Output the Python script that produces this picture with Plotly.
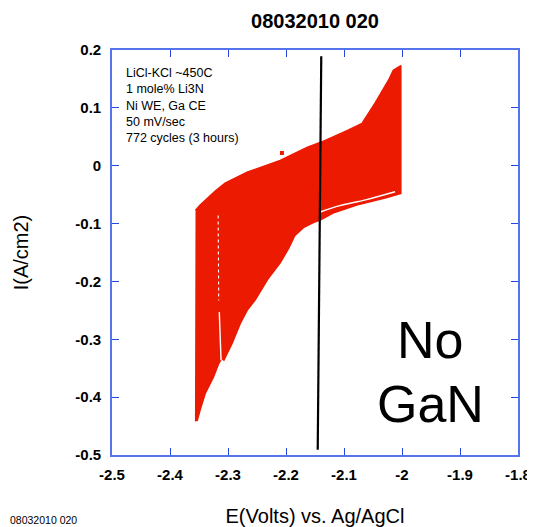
import plotly.graph_objects as go

# ---- data ----
title_text = "08032010 020"
x_title = "E(Volts) vs. Ag/AgCl"
y_title = "I(A/cm2)"

x_tickvals = [-2.5, -2.4, -2.3, -2.2, -2.1, -2.0, -1.9, -1.8]
x_ticktext = ["-2.5", "-2.4", "-2.3", "-2.2", "-2.1", "-2", "-1.9", "-1.8"]
y_tickvals = [0.2, 0.1, 0.0, -0.1, -0.2, -0.3, -0.4, -0.5]
y_ticktext = ["0.2", "0.1", "0", "-0.1", "-0.2", "-0.3", "-0.4", "-0.5"]

# envelope of the 772 overlaid CV cycles (outer boundary)
env_E = [-2.356, -2.348, -2.322, -2.305, -2.267, -2.210, -2.163, -2.141, -2.094,
         -2.069, -2.046, -2.022, -2.015, -2.002, -2.002, -2.026, -2.078, -2.119,
         -2.141, -2.152, -2.170, -2.185, -2.195, -2.210, -2.230, -2.253, -2.267, -2.279,
         -2.293, -2.307, -2.311, -2.316, -2.325, -2.339, -2.348, -2.353, -2.357]
env_I = [-0.077, -0.068, -0.044, -0.030, -0.011, 0.009, 0.032, 0.040, 0.061,
         0.073, 0.109, 0.150, 0.165, 0.173, -0.048, -0.055, -0.068, -0.082,
         -0.094, -0.098, -0.107, -0.121, -0.142, -0.168, -0.194, -0.232, -0.250, -0.273,
         -0.307, -0.336, -0.333, -0.342, -0.365, -0.393, -0.422, -0.440, -0.441]

# white gaps between groups of cycles
gap1_E = [-2.141, -2.107, -2.063, -2.012]
gap1_I = [-0.080, -0.069, -0.059, -0.045]
gap2_E = [-2.315, -2.312]
gap2_I = [-0.253, -0.336]
gap3_E = [-2.317, -2.316]
gap3_I = [-0.086, -0.233]

stray_E = [-2.207]
stray_I = [0.022]

# vertical reference line
ref_E = [-2.1453, -2.1392]
ref_I = [-0.491, 0.189]

info_lines = ["LiCl-KCl ~450C", "1 mole% Li3N", "Ni WE, Ga CE", "50 mV/sec",
              "772 cycles (3 hours)"]

RED = "#ec1a00"
AXIS_BLUE = "#5573ea"
TICK_BLUE = "#2448e0"
FONT = "Liberation Sans, Arial, Helvetica, sans-serif"

# the page body adds an 8px offset; figure is sized so the plot lands where the reference has it
OFF = 8
W, H = 535 - OFF, 527 - OFF
L, R, T, B = 111.5 - OFF, 17, 49.5 - OFF, 72
PW = W - L - R
PH = H - T - B


def px(p):
    return (p - OFF - L) / PW


def py(p):
    return 1 - (p - OFF - T) / PH


fig = go.Figure()
fig.add_trace(go.Scatter(x=env_E, y=env_I, mode="lines", fill="toself",
                         fillcolor=RED, line=dict(color=RED, width=1.5),
                         hoverinfo="skip", showlegend=False))
fig.add_trace(go.Scatter(x=gap1_E, y=gap1_I, mode="lines",
                         line=dict(color="white", width=1.4, shape="spline"),
                         showlegend=False, hoverinfo="skip"))
fig.add_trace(go.Scatter(x=gap2_E, y=gap2_I, mode="lines",
                         line=dict(color="white", width=1.4),
                         showlegend=False, hoverinfo="skip"))
fig.add_trace(go.Scatter(x=gap3_E, y=gap3_I, mode="lines",
                         line=dict(color="white", width=1.1, dash="dot"),
                         showlegend=False, hoverinfo="skip"))
fig.add_trace(go.Scatter(x=stray_E, y=stray_I, mode="markers",
                         marker=dict(color=RED, size=4, symbol="square"),
                         showlegend=False, hoverinfo="skip"))
fig.add_trace(go.Scatter(x=ref_E, y=ref_I, mode="lines",
                         line=dict(color="black", width=2.2),
                         showlegend=False, hoverinfo="skip"))

axis_common = dict(showgrid=False, zeroline=False, showline=True, linecolor=AXIS_BLUE,
                   linewidth=1.6, mirror="allticks", ticks="inside", ticklen=7,
                   tickcolor=TICK_BLUE, tickwidth=1.3, automargin=False,
                   tickfont=dict(family=FONT, size=15, color="black", weight="bold"))

fig.update_layout(
    width=W, height=H,
    margin=dict(l=L, r=R, t=T, b=B),
    plot_bgcolor="white", paper_bgcolor="white",
    font=dict(family=FONT, color="black"),
    title=dict(text="<b>" + title_text + "</b>", x=0.5, xref="paper",
               y=1 - (20.5 - OFF) / H, yref="container", yanchor="middle", xanchor="center",
               font=dict(family=FONT, size=20, color="black")),
    xaxis=dict(range=[-2.5, -1.8], tickvals=x_tickvals, ticktext=x_ticktext,
               ticklabelstandoff=5,
               title=dict(text=x_title, font=dict(family=FONT, size=20), standoff=30),
               **axis_common),
    yaxis=dict(range=[-0.5, 0.2], tickvals=y_tickvals, ticktext=y_ticktext,
               ticklabelstandoff=6,
               title=dict(text=y_title, font=dict(family=FONT, size=20), standoff=41),
               **axis_common),
    showlegend=False,
)

fig.add_annotation(text="<br>".join(info_lines), xref="paper", yref="paper",
                   x=px(124), y=py(105.5), xanchor="left",
                   yanchor="middle", align="left", showarrow=False,
                   font=dict(family=FONT, size=12.5, color="black"))
fig.add_annotation(text="No", xref="paper", yref="paper", x=px(430),
                   y=py(340), xanchor="center", yanchor="middle",
                   showarrow=False, font=dict(family=FONT, size=52, color="black"))
fig.add_annotation(text="GaN", xref="paper", yref="paper", x=px(430),
                   y=py(404), xanchor="center", yanchor="middle",
                   showarrow=False, font=dict(family=FONT, size=52, color="black"))
fig.add_annotation(text=title_text, xref="paper", yref="paper",
                   x=px(OFF - 1), y=py(520), xanchor="left",
                   yanchor="middle", showarrow=False,
                   font=dict(family=FONT, size=10.5, color="black"))

fig.write_html("out.html")
